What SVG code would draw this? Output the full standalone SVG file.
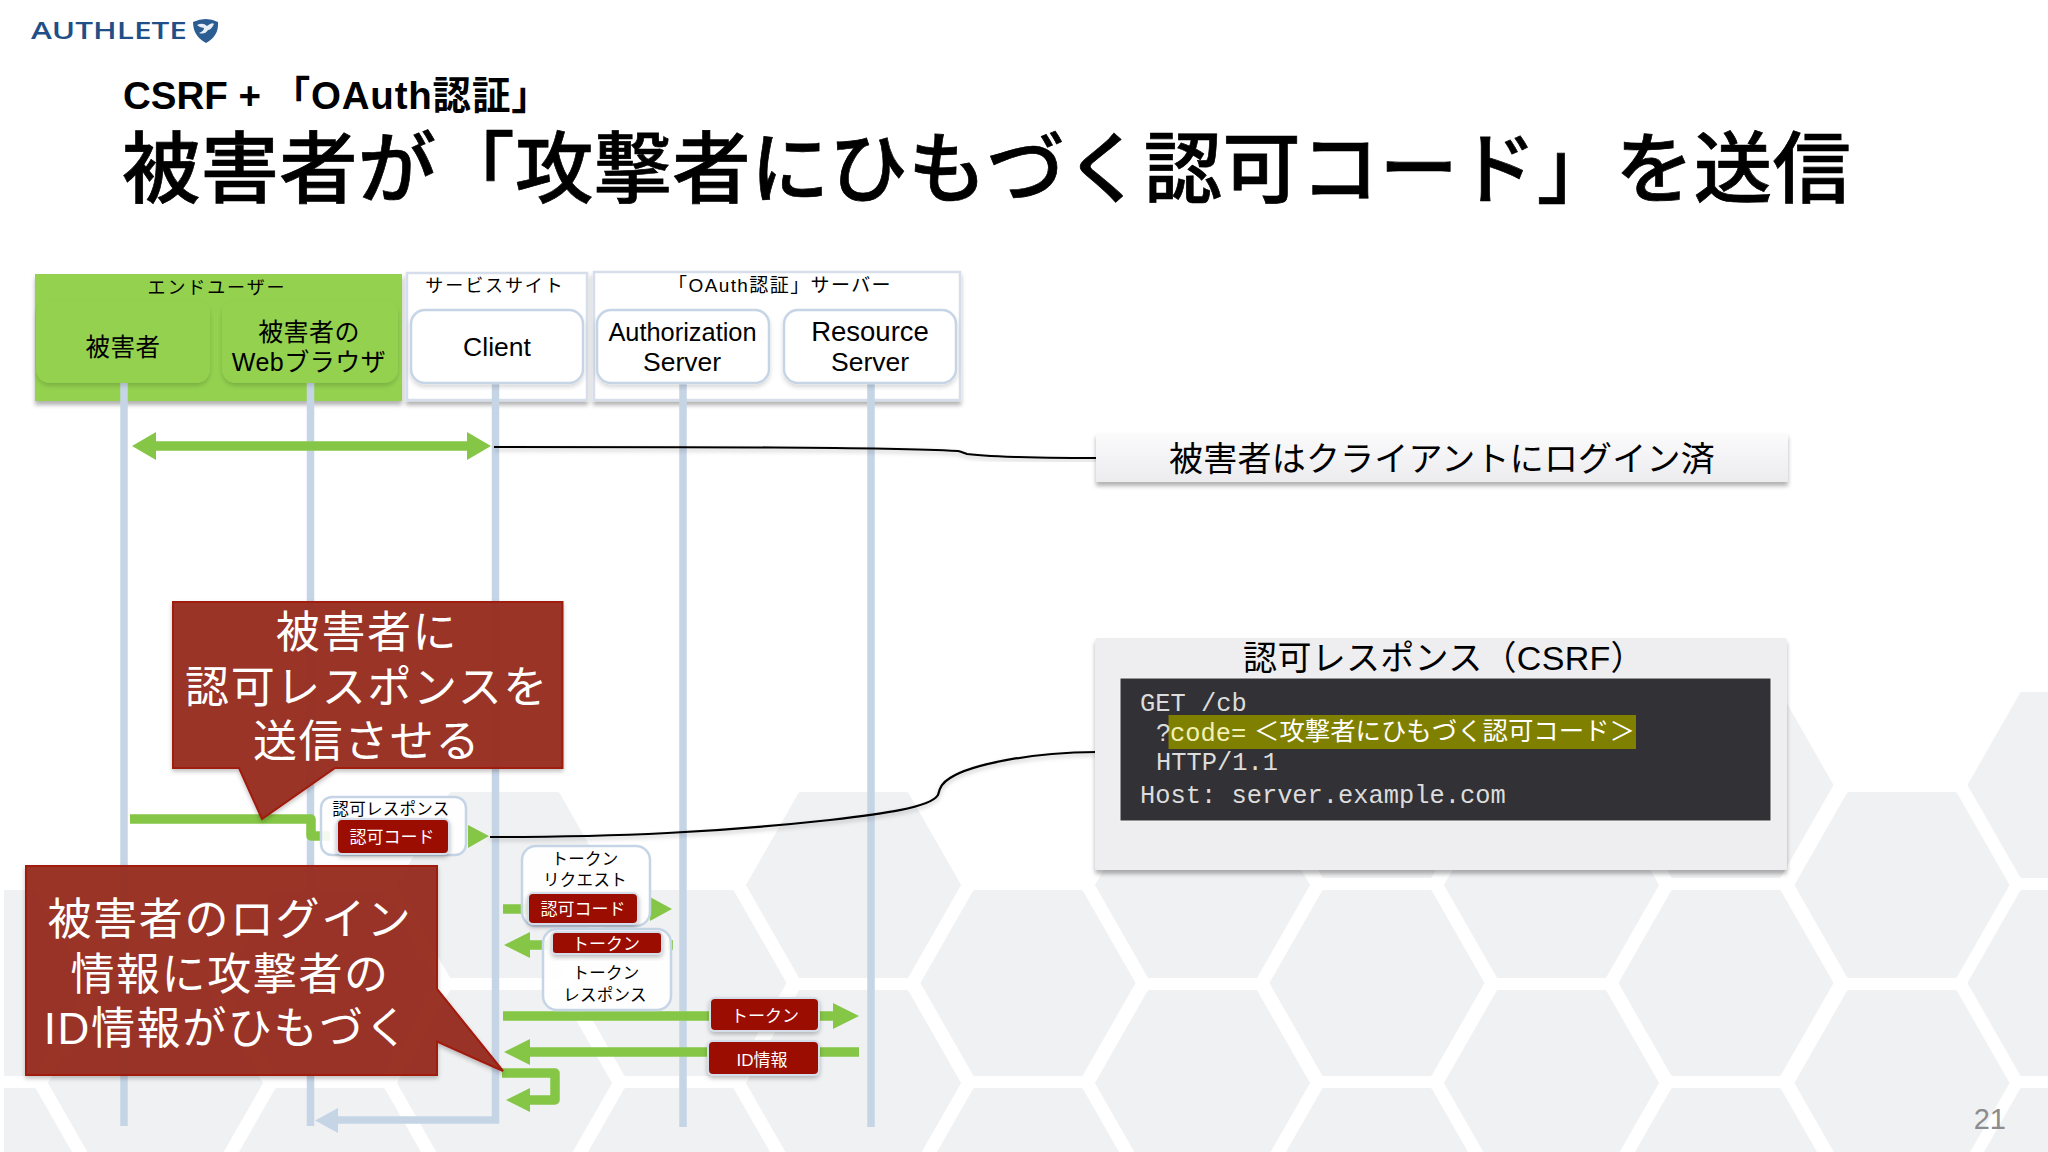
<svg xmlns="http://www.w3.org/2000/svg" width="2048" height="1152" viewBox="0 0 2048 1152">
<defs>
<filter id="sh" x="-10%" y="-10%" width="120%" height="130%"><feDropShadow dx="0" dy="4" stdDeviation="2" flood-color="#000" flood-opacity=".3"/></filter>
<filter id="shs" x="-10%" y="-20%" width="120%" height="150%"><feDropShadow dx="0" dy="2.5" stdDeviation="2" flood-color="#000" flood-opacity=".25"/></filter>
<filter id="shl" x="-5%" y="-5%" width="110%" height="115%"><feDropShadow dx="0" dy="3" stdDeviation="2" flood-color="#000" flood-opacity=".15"/></filter>
<linearGradient id="note" x1="0" y1="0" x2="0" y2="1"><stop offset="0" stop-color="#fbfbfc"/><stop offset="1" stop-color="#ecebee"/></linearGradient>
<path id="hex" d="M-107-1Q-108 0-107 1L-55 92Q-54 93-53 93H53Q54 93 55 92L107 1Q108 0 107-1L55-92Q54-93 53-93H-53Q-54-93-55-92Z" fill="#f0f1f3"/>
</defs>
<style>
text{font-family:"Liberation Sans","Noto Sans CJK JP",sans-serif;fill:#000}
.m{text-anchor:middle}
.node{font-size:26.5px}
.grp{font-size:18px;letter-spacing:1.9px}
.life{stroke:#c6d5e6;stroke-width:7.5;fill:none}
.fl{fill:#c6d5e6}
.gl{stroke:#85c646;stroke-width:9.5;fill:none}
.gh{fill:#85c646}
.wb{fill:#fff;stroke:#c6d5e6;stroke-width:2.5}
.red{fill:#9a1000;stroke:#d5dcea;stroke-width:2}
.rt{fill:#fff;font-size:17px;text-anchor:middle}
.lb{font-size:16.5px;text-anchor:middle;letter-spacing:.3px}
.ct{fill:#fff;font-size:44px;text-anchor:middle;letter-spacing:1.6px}
.co{fill:#982e20;fill-opacity:.97;stroke:#a01a10;stroke-width:2}
.mono{font-family:"Liberation Mono","Noto Sans CJK JP",monospace;font-size:25.4px;fill:#dcdcdc}
.blk{stroke:#000;stroke-width:2.2;fill:none}
</style>
<rect width="2048" height="1152" fill="#fff"/>
<g id="background">
<use href="#hex" x="-19" y="983"/><use href="#hex" x="-19" y="1181"/>
<use href="#hex" x="155.5" y="1083"/>
<use href="#hex" x="330" y="983"/><use href="#hex" x="330" y="1181"/>
<use href="#hex" x="504.5" y="885"/><use href="#hex" x="504.5" y="1083"/>
<use href="#hex" x="679" y="983"/><use href="#hex" x="679" y="1181"/>
<use href="#hex" x="853.5" y="885"/><use href="#hex" x="853.5" y="1083"/>
<use href="#hex" x="1028" y="983"/><use href="#hex" x="1028" y="1181"/>
<use href="#hex" x="1202.5" y="885"/><use href="#hex" x="1202.5" y="1083"/>
<use href="#hex" x="1377" y="785"/><use href="#hex" x="1377" y="983"/><use href="#hex" x="1377" y="1181"/>
<use href="#hex" x="1551.5" y="885"/><use href="#hex" x="1551.5" y="1083"/>
<use href="#hex" x="1726" y="785"/><use href="#hex" x="1726" y="983"/><use href="#hex" x="1726" y="1181"/>
<use href="#hex" x="1902" y="885"/><use href="#hex" x="1902" y="1083"/>
<use href="#hex" x="2075" y="785"/><use href="#hex" x="2075" y="983"/><use href="#hex" x="2075" y="1181"/>
<rect x="0" y="860" width="4" height="292" fill="#fff"/>
</g>
<g id="logo">
<text x="31" y="39" font-size="23.5" font-weight="600" style="font-family:'Open Sans','Liberation Sans',sans-serif;fill:#1f4f86" textLength="156" lengthAdjust="spacingAndGlyphs">AUTHLETE</text>
<path d="M193 22Q206 16 218 22Q219 36 206 43Q193 36 193 22Z" fill="#2b5d92"/>
<path d="M197 25Q203 22 207 26Q212 22 214 24Q211 30 208 30Q205 35 199 33Q204 31 204 28Q200 28 197 25Z" fill="#e8eef5"/>
</g>
<g id="title">
<text x="123" y="109" font-size="38.5" font-weight="700">CSRF + <tspan letter-spacing=".8">「OAuth認証」</tspan></text>
<text x="122" y="197" font-size="78.4" font-weight="500" letter-spacing=".2" stroke="#000" stroke-width=".7">被害者が「攻撃者にひもづく認可コード」を送信</text>
</g>
<g id="group-enduser">
<rect x="35" y="274" width="367" height="127" fill="#93d14f" filter="url(#sh)"/>
<text class="grp m" x="217" y="294">エンドユーザー</text>
</g>
<g id="group-service">
<rect x="407" y="273" width="180" height="127" fill="#fff" stroke="#d5deea" stroke-width="2.5" filter="url(#sh)"/>
<text class="grp m" x="495" y="292">サービスサイト</text>
</g>
<g id="group-oauth">
<rect x="594" y="272" width="366" height="128" fill="#fff" stroke="#d5deea" stroke-width="2.5" filter="url(#sh)"/>
<text class="m" x="780" y="292" font-size="19" letter-spacing="1.4">「OAuth認証」サーバー</text>
</g>
<g id="connectors">
<path class="life" d="M124 383V1126"/>
<path class="life" d="M310.500 383V1126"/>
<path class="life" d="M495.500 383V1120H338"/>
<path class="fl" d="M315 1120.500L338 1108V1133Z"/>
<path class="life" d="M683 383V1127"/>
<path class="life" d="M871 383V1127"/>
<path class="gl" d="M154 446H470"/>
<path class="gh" d="M132 446L156 432V460ZM491 446L467 432V460Z"/>
<path class="blk" filter="url(#shs)" d="M494 447C700 447 880 447 958 451C962 452 964 453 967 454C1000 458 1060 458 1099 458"/>
<path class="gl" d="M130 819H311V836H330" stroke-linejoin="round"/>
<path class="gh" d="M468 825L489 836L468 848Z"/>
<path class="blk" filter="url(#shs)" d="M490 837C620 837 720 832 830 820C880 814 930 808 938 795C940 787 942 783 950 778C970 765 1030 752 1097 752"/>
<path class="gl" d="M503 909H530"/>
<path class="gh" d="M650 897L672 909L650 921Z"/>
<path class="gl" d="M528 945H548M668 945H673"/>
<path class="gh" d="M504 945L530 932V958Z"/>
<path class="gl" d="M503 1016H835"/>
<path class="gh" d="M859 1016L833 1003V1029Z"/>
<path class="gl" d="M528 1052H859"/>
<path class="gh" d="M504 1052L530 1039V1065Z"/>
<path class="gl" d="M502 1073H555V1100H528" stroke-linejoin="round"/>
<path class="gh" d="M506 1100L530 1088V1112Z"/>
</g>
<g id="node-victim">
<rect x="36" y="300" width="174" height="83" rx="14" fill="#93d14f" filter="url(#shl)"/>
<text class="m" x="123" y="356" style="font-size:24.500px;letter-spacing:.5px">被害者</text>
</g>
<g id="node-browser">
<rect x="222" y="300" width="176" height="83" rx="14" fill="#93d14f" filter="url(#shl)"/>
<text class="m" x="309" y="341" style="font-size:25px;letter-spacing:.4px">被害者の</text>
<text class="m" x="309" y="371" style="font-size:25px;letter-spacing:.5px">Webブラウザ</text>
</g>
<g id="node-client">
<rect class="wb" x="411" y="310" width="172" height="73" rx="14" filter="url(#shl)"/>
<text class="node m" x="497" y="356">Client</text>
</g>
<g id="node-authz">
<rect class="wb" x="597" y="310" width="172" height="73" rx="14" filter="url(#shl)"/>
<text class="m" x="682.500" y="341" style="font-size:25.400px">Authorization</text>
<text class="node m" x="682" y="371">Server</text>
</g>
<g id="node-resource">
<rect class="wb" x="784" y="310" width="172" height="73" rx="14" filter="url(#shl)"/>
<text class="m" x="870" y="341" style="font-size:27.500px">Resource</text>
<text class="node m" x="870" y="371">Server</text>
</g>
<g id="note-login">
<rect x="1096" y="433" width="692" height="49" fill="url(#note)" filter="url(#sh)"/>
<text class="m" x="1442" y="471" font-size="34" letter-spacing=".2">被害者はクライアントにログイン済</text>
</g>
<g id="note-response">
<rect x="1095" y="638" width="692" height="232" rx="3" fill="#eeeef0" filter="url(#sh)"/>
<text class="m" x="1444" y="670" font-size="34" letter-spacing=".3">認可レスポンス（CSRF）</text>
<rect x="1120" y="678" width="651" height="143" fill="#323135" stroke="#f4f4f6" stroke-width="1"/>
<rect x="1168.500" y="715" width="467.500" height="34" fill="#808000"/>
<text class="mono" x="1140" y="711">GET /cb</text>
<text class="mono" x="1156" y="741">?</text>
<text class="mono" x="1170" y="741" style="fill:#f2f2b8">code=</text>
<text x="1254" y="740" style="fill:#fff;font-size:25.400px">＜攻撃者にひもづく認可コード＞</text>
<text class="mono" x="1156" y="770">HTTP/1.1</text>
<text class="mono" x="1140" y="803">Host: server.example.com</text>
</g>
<g id="msg-authz-response">
<rect class="wb" x="321" y="797" width="145" height="58" rx="11" style="fill-opacity:.9"/>
<text class="lb" x="391" y="815">認可レスポンス</text>
<rect class="red" x="337" y="819" width="112" height="35" rx="5" filter="url(#shs)"/>
<text class="rt" x="392" y="843">認可コード</text>
</g>
<g id="msg-token-request">
<rect class="wb" x="522" y="846" width="128" height="80" rx="14" style="fill-opacity:.9"/>
<text class="lb" x="585" y="865">トークン</text>
<text class="lb" x="585" y="886">リクエスト</text>
<rect class="red" x="528" y="893" width="110" height="31" rx="5" filter="url(#shs)"/>
<text class="rt" x="583" y="915">認可コード</text>
</g>
<g id="msg-token-response">
<rect class="wb" x="543" y="929" width="128" height="81" rx="14" style="fill-opacity:.9"/>
<rect class="red" x="552" y="932" width="110" height="22" rx="4" filter="url(#shs)"/>
<text class="rt" x="606" y="950">トークン</text>
<text class="lb" x="606" y="979">トークン</text>
<text class="lb" x="605" y="1001">レスポンス</text>
</g>
<g id="msg-token">
<rect class="red" x="710" y="998" width="109" height="33" rx="5" filter="url(#shs)"/>
<text class="rt" x="765" y="1022">トークン</text>
</g>
<g id="msg-id">
<rect class="red" x="708" y="1041" width="111" height="34" rx="5" filter="url(#shs)"/>
<text class="rt" x="762" y="1066">ID情報</text>
</g>
<g id="callout-send">
<path class="co" filter="url(#shs)" d="M173 602H562.500V768H335L262 819L239 768H173Z"/>
<text class="ct" x="367" y="648">被害者に</text>
<text class="ct" x="367" y="703">認可レスポンスを</text>
<text class="ct" x="367" y="757">送信させる</text>
</g>
<g id="callout-bind">
<path class="co" filter="url(#shs)" d="M26 866H437V989L503 1071L437 1041.500V1075H26Z"/>
<text class="ct" x="230" y="935">被害者のログイン</text>
<text class="ct" x="230" y="990">情報に攻撃者の</text>
<text class="ct" x="227" y="1044">ID情報がひもづく</text>
</g>
<text id="page-number" x="2006" y="1129" font-size="29" text-anchor="end" style="fill:#8c8c8c">21</text>
</svg>
